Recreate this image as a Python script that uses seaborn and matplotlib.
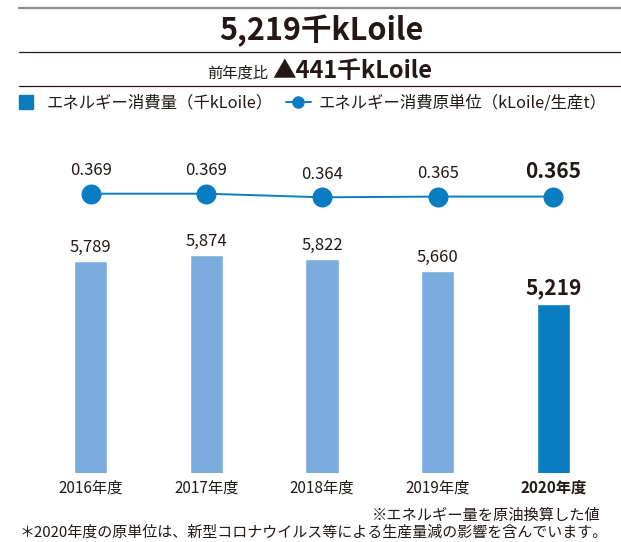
import numpy as np
import pandas as pd
import matplotlib
matplotlib.use('Agg')
import matplotlib.pyplot as plt
import seaborn as sns
from matplotlib.lines import Line2D

# data
years = ['2016年度', '2017年度', '2018年度', '2019年度', '2020年度']
energy = [5789, 5874, 5822, 5660, 5219]            # 千kLoile
intensity = [0.369, 0.369, 0.364, 0.365, 0.365]    # kLoile/生産t

LIGHT = '#7aaddd'
DARK = '#0a7dc2'
TXT = '#231815'

sns.set_theme(style='white')
plt.rcParams['font.family'] = ['Noto Sans CJK JP', 'DejaVu Sans']

W, H = 621, 542
fig = plt.figure(figsize=(W / 100, H / 100), dpi=100)
ax = fig.add_axes([33 / W, 1 - 472.5 / H, 578 / W, 322.5 / H])

df = pd.DataFrame({'year': years, 'energy': energy})
bar_colors = [LIGHT] * 4 + [DARK]
sns.barplot(data=df, x='year', y='energy', hue='year', palette=bar_colors,
            legend=False, width=0.287, saturation=1, ax=ax)
ax.set_ylim(2985, 7261)

for i, v in enumerate(energy):
    last = i == len(energy) - 1
    ax.annotate(f'{v:,}', (i, v), xytext=(0, 3.5), textcoords='offset points',
                ha='center', va='bottom', color=TXT,
                fontsize=15 if last else 12, fontweight='bold' if last else 'normal')

# intensity line on a second axis
ax2 = ax.twinx()
sns.lineplot(x=np.arange(len(intensity)), y=intensity, ax=ax2, color=DARK,
             lw=1.4, marker='o', markersize=14.4, markeredgewidth=0)
ax2.set_ylim(-0.0182, 0.4297)
for i, v in enumerate(intensity):
    last = i == len(intensity) - 1
    ax2.annotate(f'{v:.3f}', (i, v), xytext=(0, 10.5), textcoords='offset points',
                 ha='center', va='bottom', color=TXT,
                 fontsize=15 if last else 12, fontweight='bold' if last else 'normal')

ax.set_xlim(-0.5, 4.5)
ax.set_xticks(range(len(years)))
ax.set_xticklabels(years, fontsize=11, color=TXT)
ax.get_xticklabels()[-1].set_fontweight('bold')
ax.tick_params(axis='x', length=0, pad=5)
ax.set_yticks([])
ax2.set_yticks([])
ax.set_xlabel('')
ax.set_ylabel('')
for a in (ax, ax2):
    for s in a.spines.values():
        s.set_visible(False)

# header rules
fig.add_artist(Line2D([19 / W, 1], [1 - 8 / H] * 2, color='#8c8c8c', lw=1.6,
                      transform=fig.transFigure))
for yy in (52, 86):
    fig.add_artist(Line2D([19 / W, 1], [1 - yy / H] * 2, color=TXT, lw=0.9,
                          transform=fig.transFigure))

fig.text(321 / W, 1 - 40 / H, '5,219千kLoile', ha='center', va='baseline',
         fontsize=22, fontweight='bold', color=TXT)
fig.text(268 / W, 1 - 77.5 / H, '前年度比', ha='right', va='baseline',
         fontsize=11, color=TXT)
fig.text(272 / W, 1 - 77.5 / H, '▲441千kLoile', ha='left', va='baseline',
         fontsize=17, fontweight='bold', color=TXT,
         family=['Noto Sans CJK JP', 'DejaVu Sans'])

# legend
handles = [
    Line2D([], [], color=DARK, marker='s', markersize=9.5, linestyle='none'),
    Line2D([], [], color=DARK, marker='o', markersize=8, lw=1.4),
]
labels = ['エネルギー消費量（千kLoile）', 'エネルギー消費原単位（kLoile/生産t）']
fig.legend(handles, labels, loc='center left', bbox_to_anchor=(14 / W, 1 - 103 / H),
           frameon=False, ncol=2, fontsize=11.8, handlelength=1.5, handletextpad=0.5,
           columnspacing=0.8, labelcolor=TXT, borderpad=0, borderaxespad=0)

# footnotes
fig.text(372 / W, 1 - 520 / H, '※エネルギー量を原油換算した値', ha='left', va='baseline',
         fontsize=11, color=TXT)
fig.text(20 / W, 1 - 537 / H,
         '＊2020年度の原単位は、新型コロナウイルス等による生産量減の影響を含んでいます。',
         ha='left', va='baseline', fontsize=10.8, color=TXT)

fig.savefig('out.png', dpi=100)
